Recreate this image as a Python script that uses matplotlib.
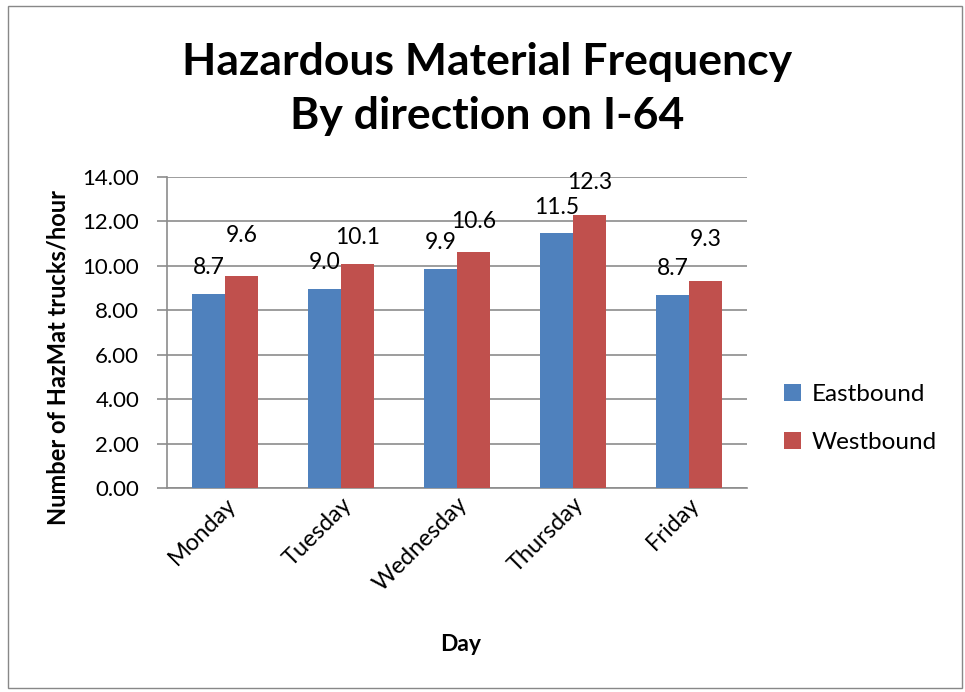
import matplotlib
matplotlib.use("Agg")
import matplotlib.pyplot as plt
from matplotlib.patches import Rectangle
import numpy as np

days = ["Monday", "Tuesday", "Wednesday", "Thursday", "Friday"]
eastbound = [8.73, 8.95, 9.88, 11.5, 8.7]
westbound = [9.56, 10.07, 10.63, 12.27, 9.3]
east_labels = ["8.7", "9.0", "9.9", "11.5", "8.7"]
west_labels = ["9.6", "10.1", "10.6", "12.3", "9.3"]
yticks = [0, 2, 4, 6, 8, 10, 12, 14]

# label vertical offsets (points) as placed in the original
east_dy = [19, 19, 19, 18, 19]
west_dy = [29, 19, 22, 24, 30]

plt.rcParams['font.family'] = ['Lato', 'DejaVu Sans']

fig = plt.figure(figsize=(9.65, 6.92), dpi=100)
fig.patches.append(Rectangle((0.008, 0.006), 0.989, 0.986, transform=fig.transFigure,
                             fill=False, edgecolor="#888888", linewidth=1.0))

ax = fig.add_axes([0.173, 0.2948, 0.601, 0.4494])
x = np.arange(len(days))
w = 0.285
blue = "#4F81BD"
red = "#C0504D"
b1 = ax.bar(x - w / 2, eastbound, w, color=blue, label="Eastbound", zorder=3)
b2 = ax.bar(x + w / 2, westbound, w, color=red, label="Westbound", zorder=3)

for i in range(len(days)):
    ax.annotate(east_labels[i], (x[i] - w / 2, eastbound[i]), xytext=(0, east_dy[i]),
                textcoords="offset points", ha="center", va="center", fontsize=16.5)
    ax.annotate(west_labels[i], (x[i] + w / 2, westbound[i]), xytext=(0, west_dy[i]),
                textcoords="offset points", ha="center", va="center", fontsize=16.5)

ax.set_xlim(-0.5, len(days) - 0.5)
ax.set_ylim(0, 14)
ax.set_yticks(yticks)
ax.set_yticklabels([f"{v:.2f}" for v in yticks], fontsize=16)
ax.yaxis.grid(True, color="#8c8c8c", linewidth=1.2, zorder=0)
ax.set_axisbelow(True)
ax.tick_params(axis="y", length=7, color="#8c8c8c", width=1.2, pad=13)
ax.tick_params(axis="x", length=0, pad=4)
ax.set_xticks(x)
ax.set_xticklabels(days, rotation=45, ha="right", va="top", rotation_mode="anchor", fontsize=17)
for s in ["top", "right"]:
    ax.spines[s].set_visible(False)
for s in ["left", "bottom"]:
    ax.spines[s].set_color("#8c8c8c")
    ax.spines[s].set_linewidth(1.2)

fig.text(0.060, 0.483, "Number of HazMat trucks/hour", rotation=90, ha="center", va="center",
         fontsize=17, fontweight="bold")
fig.text(0.477, 0.068, "Day", ha="center", va="center", fontsize=16.5, fontweight="bold")

fig.text(0.505, 0.871, "Hazardous Material Frequency\nBy direction on I-64", ha="center", va="center",
         fontsize=32, fontweight="bold", linespacing=1.42)

leg = fig.legend(handles=[b1, b2], labels=["Eastbound", "Westbound"], loc="center left",
                 bbox_to_anchor=(0.812, 0.395), frameon=False, fontsize=17.5,
                 handlelength=0.7, handleheight=0.7, labelspacing=1.1, handletextpad=0.45,
                 borderaxespad=0, borderpad=0)

fig.savefig("out.png", dpi=100)
